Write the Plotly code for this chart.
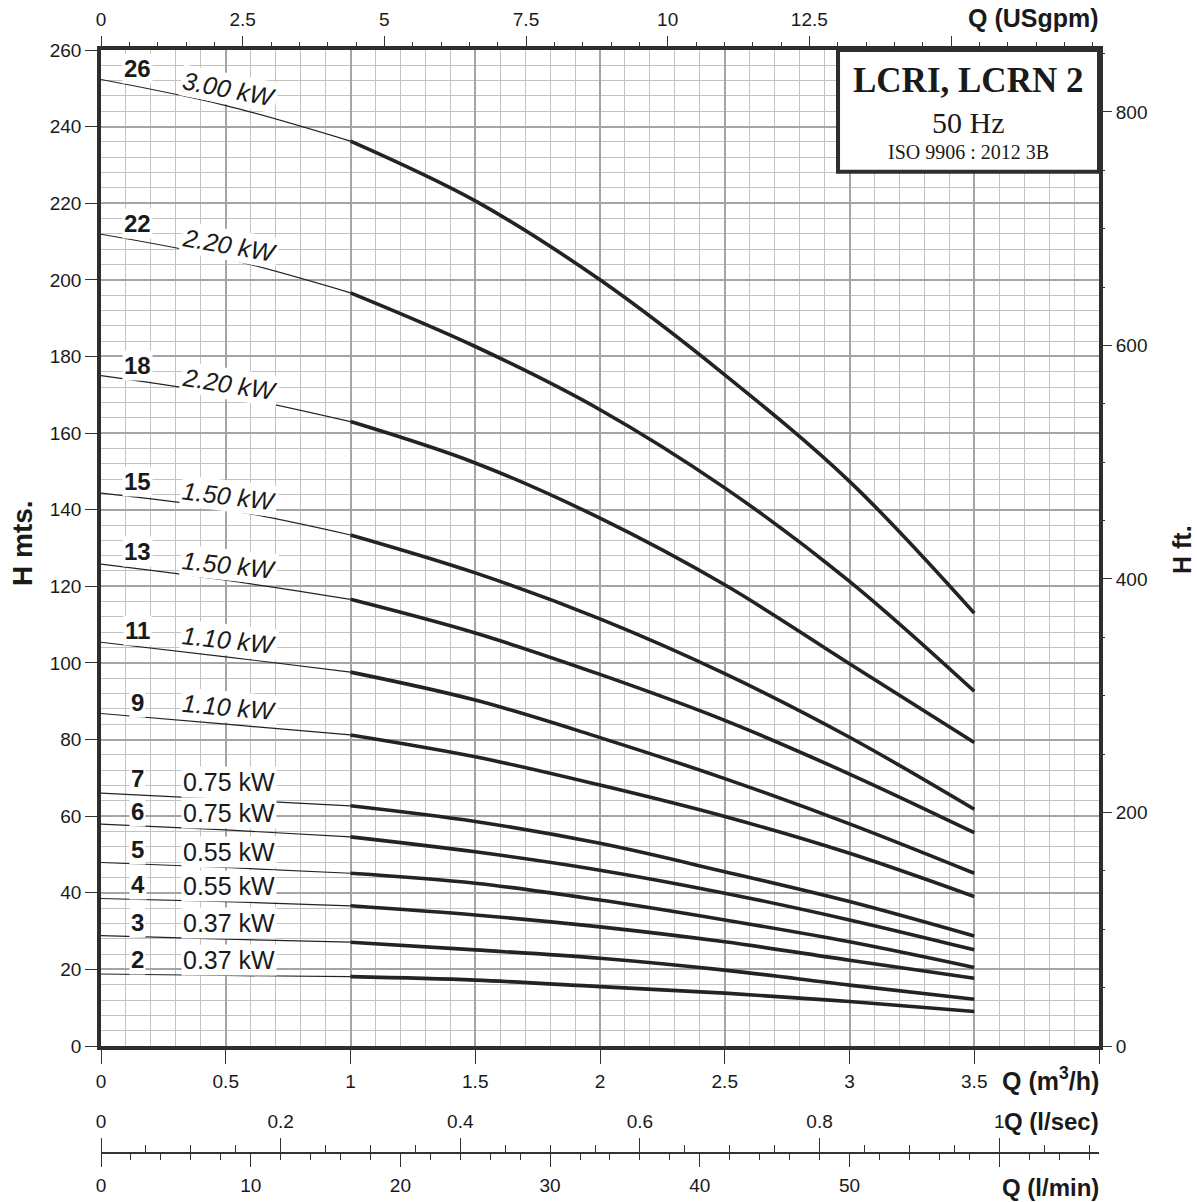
import plotly.graph_objects as go

# ---------------- data ----------------
Q_POINTS = [0.0, 0.5, 1.0, 1.5, 2.0, 2.5, 3.0, 3.5]   # m3/h
STAGES = [26, 22, 18, 15, 13, 11, 9, 7, 6, 5, 4, 3, 2]
POWER = ["3.00 kW", "2.20 kW", "2.20 kW", "1.50 kW", "1.50 kW", "1.10 kW", "1.10 kW",
         "0.75 kW", "0.75 kW", "0.55 kW", "0.55 kW", "0.37 kW", "0.37 kW"]

H_26 = [252.3, 245.5, 236.2, 220.6, 200.0, 175.2, 147.4, 113.0]
H_22 = [211.9, 205.6, 196.6, 182.6, 166.1, 145.7, 121.3, 92.6]
H_18 = [175.0, 170.0, 163.0, 152.2, 137.8, 120.4, 99.8, 79.2]
H_15 = [144.3, 140.1, 133.4, 123.5, 111.5, 97.2, 80.6, 61.8]
H_13 = [125.8, 121.6, 116.6, 107.8, 97.0, 85.0, 71.0, 55.7]
H_11 = [105.4, 101.6, 97.6, 90.3, 80.5, 69.8, 58.0, 45.1]
H_9 = [86.8, 84.0, 81.2, 75.5, 68.1, 59.9, 50.3, 39.0]
H_7 = [66.0, 64.4, 62.7, 58.6, 52.9, 45.5, 37.7, 28.7]
H_6 = [57.9, 56.4, 54.6, 50.7, 45.9, 39.9, 32.9, 25.1]
H_5 = [47.9, 46.6, 45.1, 42.5, 38.1, 32.9, 27.2, 20.5]
H_4 = [38.5, 37.7, 36.6, 34.2, 31.1, 27.2, 22.4, 17.7]
H_3 = [28.8, 27.9, 27.1, 25.1, 22.9, 19.8, 15.9, 12.2]
H_2 = [18.8, 18.4, 18.1, 17.2, 15.5, 13.8, 11.6, 9.0]
HEADS = [H_26, H_22, H_18, H_15, H_13, H_11, H_9, H_7, H_6, H_5, H_4, H_3, H_2]

X_TICKS = [0, 0.5, 1, 1.5, 2, 2.5, 3, 3.5, 4]
X_TICKTEXT = ["0", "0.5", "1", "1.5", "2", "2.5", "3", "3.5", " "]
Y_TICKS = list(range(0, 261, 20))
FT_TICKS = [0, 200, 400, 600, 800]
GPM_TICKS = [0, 2.5, 5, 7.5, 10, 12.5, 15]
GPM_TICKTEXT = ["0", "2.5", "5", "7.5", "10", "12.5", " "]
LS_TICKS = [0, 0.2, 0.4, 0.6, 0.8, 1.0]
LS_TICKTEXT = ["0", "0.2", "0.4", "0.6", "0.8", "1"]
LM_TICKS = [0, 10, 20, 30, 40, 50, 60]
LM_TICKTEXT = ["0", "10", "20", "30", "40", "50", " "]

# unit conversions
M3H_TO_GPM = 4.402868
M_TO_FT = 3.28084
M3H_TO_LS = 1 / 3.6
M3H_TO_LMIN = 1000 / 60

Q_MAX = 4.0
H_MAX = 260.0

# ---------------- layout geometry ----------------
W, H = 1197, 1202
ML, MR, MT, MB = 101, 98, 50, 10
PLOT_BOTTOM_PX = 1046
AUX_AXIS_PX = 1153
paper_h = H - MT - MB
paper_w = W - ML - MR


def px_x(px):
    return (px - ML) / paper_w


def px_y(py):
    return (H - MB - py) / paper_h


y_dom0 = px_y(PLOT_BOTTOM_PX)
aux_pos = px_y(AUX_AXIS_PX)

SANS = "Liberation Sans, Arial, sans-serif"
SERIF = "Liberation Serif, Times New Roman, serif"
INK = "#1a1a1a"
FRAME = "#2e2e2e"
TICK = "#333333"
MAJOR_GRID = "#a4a4a4"
MINOR_GRID = "#c2c2c2"
CURVE = "#232323"

fig = go.Figure()

for stage, hs in zip(STAGES, HEADS):
    fig.add_trace(go.Scatter(x=Q_POINTS[:3], y=hs[:3], mode="lines",
                             line=dict(color=CURVE, width=1.2, shape="spline"),
                             hoverinfo="skip", showlegend=False))
    fig.add_trace(go.Scatter(x=Q_POINTS[2:], y=hs[2:], mode="lines",
                             line=dict(color=CURVE, width=3.6, shape="spline"),
                             hoverinfo="skip", showlegend=False))

# empty carrier traces so that the secondary unit axes get drawn
for xa, ya in [("x2", "y"), ("x", "y2"), ("x3", "y"), ("x4", "y")]:
    fig.add_trace(go.Scatter(x=[None], y=[None], xaxis=xa, yaxis=ya, mode="lines",
                             hoverinfo="skip", showlegend=False))

tickfont = dict(family=SANS, size=19, color=INK)

fig.update_layout(
    width=W, height=H,
    margin=dict(l=ML, r=MR, t=MT, b=MB, autoexpand=False),
    plot_bgcolor="white", paper_bgcolor="white",
    showlegend=False, hovermode=False,
    xaxis=dict(
        range=[0, Q_MAX], domain=[0, 1], anchor="y",
        tickmode="array", tickvals=X_TICKS, ticktext=X_TICKTEXT,
        ticks="outside", ticklen=14, tickwidth=1.2, tickcolor=TICK,
        tickfont=tickfont, ticklabelstandoff=1,
        showline=True, linecolor=FRAME, linewidth=3.5, mirror=True,
        showgrid=True, gridcolor=MAJOR_GRID, gridwidth=2.4, zeroline=False,
        minor=dict(tickmode="linear", tick0=0, dtick=0.1, showgrid=True,
                   gridcolor=MINOR_GRID, gridwidth=1.3, ticks=""),
    ),
    yaxis=dict(
        range=[0, H_MAX], domain=[y_dom0, 1], anchor="x",
        tickmode="array", tickvals=Y_TICKS,
        ticks="outside", ticklen=12, tickwidth=1.2, tickcolor=TICK,
        tickfont=tickfont,
        showline=True, linecolor=FRAME, linewidth=3.5, mirror=True,
        showgrid=True, gridcolor=MAJOR_GRID, gridwidth=2.4, zeroline=False,
        minor=dict(tickmode="linear", tick0=0, dtick=4, showgrid=True,
                   gridcolor=MINOR_GRID, gridwidth=1.3, ticks=""),
    ),
    xaxis2=dict(
        range=[0, Q_MAX * M3H_TO_GPM], overlaying="x", side="top", anchor="y",
        tickmode="array", tickvals=GPM_TICKS, ticktext=GPM_TICKTEXT,
        ticks="outside", ticklen=13, tickwidth=1.2, tickcolor=TICK,
        tickfont=tickfont, ticklabelstandoff=2,
        showgrid=False, showline=False, zeroline=False,
        minor=dict(tickmode="linear", tick0=0, dtick=0.5, ticks="outside",
                   ticklen=7, tickwidth=1.2, tickcolor=TICK, showgrid=False),
    ),
    yaxis2=dict(
        range=[0, H_MAX * M_TO_FT], overlaying="y", side="right", anchor="x",
        tickmode="array", tickvals=FT_TICKS,
        ticks="outside", ticklen=12, tickwidth=1.2, tickcolor=TICK,
        tickfont=tickfont, showgrid=False, showline=False, zeroline=False,
        minor=dict(tickmode="linear", tick0=0, dtick=50, ticks="outside",
                   ticklen=5, tickwidth=1.2, tickcolor=TICK, showgrid=False),
    ),
    xaxis3=dict(
        range=[0, Q_MAX * M3H_TO_LS], overlaying="x", side="top",
        anchor="free", position=aux_pos,
        tickmode="array", tickvals=LS_TICKS, ticktext=LS_TICKTEXT,
        ticks="outside", ticklen=14, tickwidth=1.2, tickcolor=TICK,
        tickfont=tickfont, ticklabelstandoff=3,
        showgrid=False, zeroline=False,
        showline=True, linecolor=TICK, linewidth=1.5,
        minor=dict(tickmode="linear", tick0=0, dtick=0.05, ticks="outside",
                   ticklen=7, tickwidth=1.2, tickcolor=TICK, showgrid=False),
    ),
    xaxis4=dict(
        range=[0, Q_MAX * M3H_TO_LMIN], overlaying="x", side="bottom",
        anchor="free", position=aux_pos,
        tickmode="array", tickvals=LM_TICKS, ticktext=LM_TICKTEXT,
        ticks="outside", ticklen=13, tickwidth=1.2, tickcolor=TICK,
        tickfont=tickfont, ticklabelstandoff=2,
        showgrid=False, zeroline=False,
        showline=True, linecolor=TICK, linewidth=1.5,
        minor=dict(tickmode="linear", tick0=0, dtick=2, ticks="outside",
                   ticklen=6, tickwidth=1.2, tickcolor=TICK, showgrid=False),
    ),
)

# title box
fig.add_shape(type="rect", xref="x", yref="y", x0=2.954, x1=Q_MAX, y0=228.2, y1=H_MAX,
              fillcolor="white", line=dict(color=FRAME, width=4), layer="above")

ann = []


def add_text(text, px, py, size, family=SANS, angle=0, bg=None, xanchor="center",
             color=INK):
    d = dict(text=text, x=px_x(px), y=px_y(py), xref="paper", yref="paper",
             showarrow=False, textangle=angle, xanchor=xanchor, yanchor="middle",
             font=dict(family=family, size=size, color=color))
    if bg:
        d["bgcolor"] = bg
        d["borderpad"] = 1
    ann.append(d)


add_text("<b>LCRI, LCRN 2</b>", 968, 81, 35, family=SERIF)
add_text("50 Hz", 968, 123, 30, family=SERIF)
add_text("ISO 9906 : 2012 3B", 968, 152, 20, family=SERIF)

# stage labels & power labels (pixel positions)
STAGE_LABEL_Y = [68, 223, 365, 481, 551, 630, 702, 778, 811, 849, 884, 922, 959]
POWER_LABEL_Y = [89, 245, 384, 496, 565, 640, 707, 782, 813, 852, 886, 923, 960]
POWER_ANGLE = [11, 10, 9, 7, 6, 6, 5, 0, 0, 0, 0, 0, 0]
POWER_ITALIC = [True] * 7 + [False] * 6

for stage, p, sy, pyy, ang, it in zip(STAGES, POWER, STAGE_LABEL_Y, POWER_LABEL_Y,
                                      POWER_ANGLE, POWER_ITALIC):
    add_text(f"<b>{stage}</b>", 137.5, sy, 24, bg="white")
    add_text(f"<i>{p}</i>" if it else p, 229, pyy, 25, angle=ang, bg="white")

# axis titles
add_text("<b>H mts.</b>", 22, 543, 28, angle=-90)
add_text("<b>H ft.</b>", 1182, 550, 25, angle=-90)
add_text("<b>Q (USgpm)</b>", 1101, 18, 25, xanchor="right")
add_text("<b>Q (m<sup>3</sup>/h)</b>", 1101, 1079, 25, xanchor="right")
add_text("<b>Q (l/sec)</b>", 1101, 1121, 24, xanchor="right")
add_text("<b>Q (l/min)</b>", 1101, 1187, 24, xanchor="right")

fig.update_layout(annotations=ann)

fig.write_html("out.html", config={"displayModeBar": False},
               post_script="document.body.style.margin='0';document.body.style.overflow='hidden';")
